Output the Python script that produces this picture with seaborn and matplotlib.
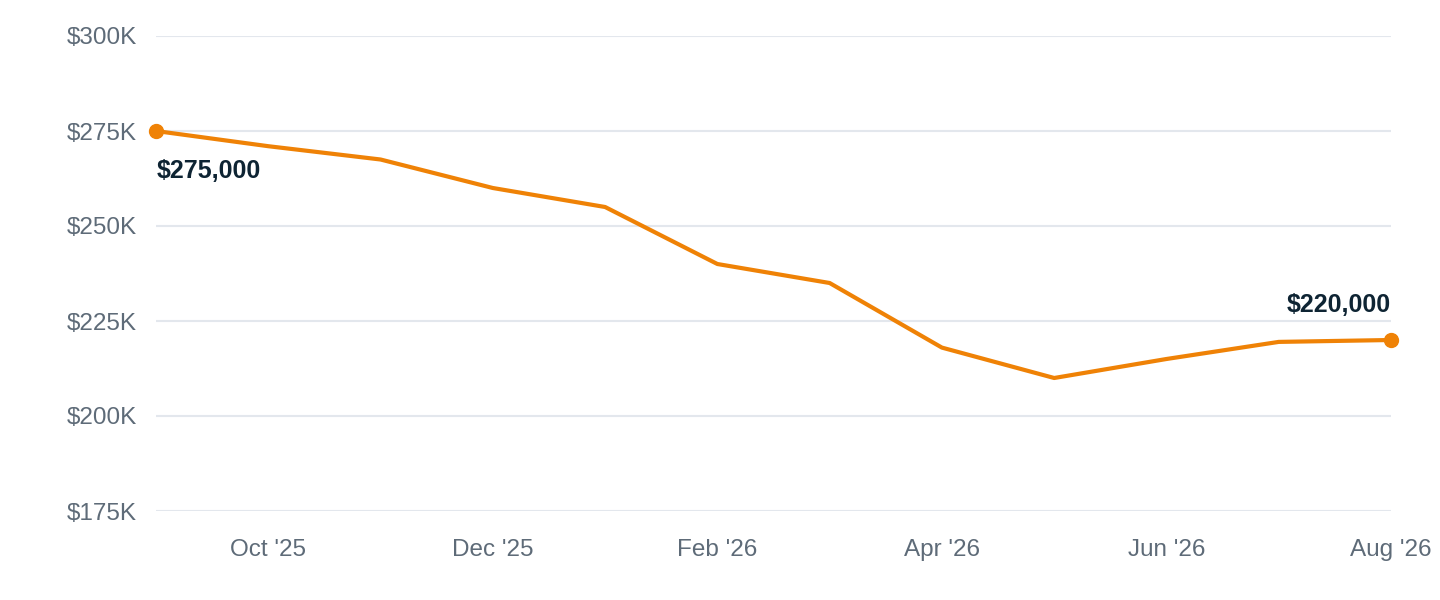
import pandas as pd
import seaborn as sns
import matplotlib.pyplot as plt
from matplotlib.ticker import FuncFormatter

# 数据
months = ["Sep '25", "Oct '25", "Nov '25", "Dec '25", "Jan '26", "Feb '26",
          "Mar '26", "Apr '26", "May '26", "Jun '26", "Jul '26", "Aug '26"]
prices = [275000, 271000, 267500, 260000, 255000, 240000,
          235000, 218000, 210000, 215000, 219500, 220000]
y_ticks = [175000, 200000, 225000, 250000, 275000, 300000]

line_color = '#EF8206'
grey = '#5E6B78'
dark = '#0E2433'


def main():
    df = pd.DataFrame({'month': months, 'price': prices})

    sns.set_theme(style='white')
    plt.rcParams['font.family'] = ['Liberation Sans', 'DejaVu Sans']

    fig = plt.figure(figsize=(14.4, 6), dpi=100)
    ax = fig.add_axes([156 / 1440, 1 - 511 / 600, (1391 - 156) / 1440, (511 - 36) / 600])

    sns.lineplot(data=df, x='month', y='price', ax=ax, color=line_color,
                 linewidth=3.0, sort=False, zorder=3)
    # 首尾两个点
    ends = df.iloc[[0, -1]]
    ax.plot(ends.index, ends['price'], 'o', color=line_color, markersize=10,
            clip_on=False, zorder=4)

    ax.set_xlim(0, len(months) - 1)
    ax.set_ylim(y_ticks[0], y_ticks[-1])
    ax.set_yticks(y_ticks)
    ax.yaxis.set_major_formatter(FuncFormatter(lambda v, p: f'${v / 1000:.0f}K'))
    tick_pos = list(range(1, len(months), 2))
    ax.set_xticks(tick_pos)
    ax.set_xticklabels([months[i] for i in tick_pos])

    ax.grid(axis='y', color='#E3E7ED', linewidth=1.5)
    ax.grid(axis='x', visible=False)
    for s in ax.spines.values():
        s.set_visible(False)
    ax.tick_params(axis='y', length=0, pad=14, labelsize=17.5, labelcolor=grey)
    ax.tick_params(axis='x', length=0, pad=20, labelsize=17.5, labelcolor=grey)
    ax.set_xlabel('')
    ax.set_ylabel('')

    # 标注
    ax.annotate(f'${prices[0]:,}', (0, prices[0]), xytext=(1, -40),
                textcoords='offset pixels', ha='left', va='center',
                fontsize=18, fontweight='bold', color=dark)
    ax.annotate(f'${prices[-1]:,}', (len(months) - 1, prices[-1]), xytext=(0, 35),
                textcoords='offset pixels', ha='right', va='center',
                fontsize=18, fontweight='bold', color=dark)

    fig.savefig('out.png', dpi=100)


if __name__ == "__main__":
    main()
